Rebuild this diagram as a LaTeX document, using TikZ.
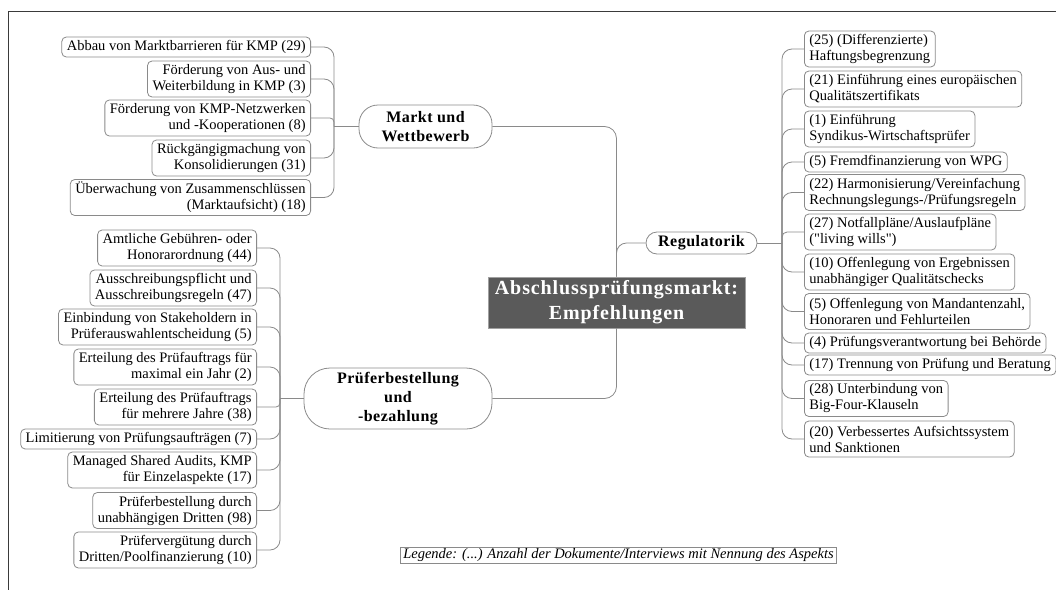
\documentclass[tikz,border=0pt]{standalone}
\usepackage{fontspec}
\setmainfont{Liberation Serif}
\newfontfamily\plainserif{Liberation Serif}
\newfontfamily\headfont[LetterSpace=3]{Liberation Serif}
\newfontfamily\titlefont[LetterSpace=4.5]{Liberation Serif}

\definecolor{boxgray}{HTML}{8A8A8A}
\definecolor{linegray}{HTML}{8A8A8A}
\definecolor{framecol}{HTML}{3A3A3A}
\definecolor{ctrfill}{HTML}{5A5A5A}
\definecolor{ctrline}{HTML}{A0A0A0}

\tikzset{
  leaf/.style={draw=boxgray, line width=0.8pt, rounded corners=4.5pt,
    inner xsep=5pt, inner ysep=0pt, text=black,
    font=\plainserif\fontsize{14.5}{16}\selectfont},
  one/.style={minimum height=20pt},
  two/.style={minimum height=36pt},
  lleaf/.style={leaf, align=right, anchor=east},
  rleaf/.style={leaf, align=left, anchor=west},
  topic/.style={draw=boxgray, line width=0.8pt, inner sep=0pt, align=center,
    text=black, font=\headfont\bfseries\fontsize{16}{19}\selectfont},
  ctrbox/.style={draw=ctrline, line width=0.8pt, fill=ctrfill, text=white,
    inner sep=0pt, align=center, minimum width=257pt, minimum height=51pt,
    font=\titlefont\bfseries\fontsize{20}{25}\selectfont},
  legendbox/.style={draw=boxgray, line width=0.8pt, inner xsep=3pt, inner ysep=0pt,
    minimum height=16pt, font=\plainserif\itshape\fontsize{14.5}{16}\selectfont},
  conn/.style={draw=linegray, line width=0.8pt},
}

\begin{document}
\begin{tikzpicture}[x=1pt, y=-1pt]
\useasboundingbox (0,0) rectangle (1056,589);

% page frame (open to the right and bottom)
\draw[framecol, line width=1pt] (8.5,600) -- (8.5,11.5) -- (1070,11.5);

% central topic
\node[ctrbox] (ctr) at (616.5,302.5) {Abschlussprüfungsmarkt:\\Empfehlungen};

% main branches
\node[topic, rounded corners=19pt, minimum width=133pt, minimum height=43pt]
  (markt) at (425.5,126.5) {Markt und\\Wettbewerb};
\node[topic, rounded corners=11pt, minimum width=111pt, minimum height=22pt]
  (reg) at (701.5,243) {Regulatorik};
\node[topic, rounded corners=26pt, minimum width=188pt, minimum height=61pt]
  (pruef) at (398,398.5) {Prüferbestellung\\und\\-bezahlung};

% Markt und Wettbewerb
\node[lleaf, one] (m1) at (311,47) {Abbau von Marktbarrieren für KMP (29)};
\node[lleaf, two] (m2) at (311,79) {Förderung von Aus- und\\Weiterbildung in KMP (3)};
\node[lleaf, two] (m3) at (311,118) {Förderung von KMP-Netzwerken\\und -Kooperationen (8)};
\node[lleaf, two] (m4) at (311,158) {Rückgängigmachung von\\Konsolidierungen (31)};
\node[lleaf, two] (m5) at (311,197.5) {Überwachung von Zusammenschlüssen\\(Marktaufsicht) (18)};

% Prüferbestellung und -bezahlung
\node[lleaf, two] (p1) at (257,248) {Amtliche Gebühren- oder\\Honorarordnung (44)};
\node[lleaf, two] (p2) at (257,288) {Ausschreibungspflicht und\\Ausschreibungsregeln (47)};
\node[lleaf, two] (p3) at (257,327) {Einbindung von Stakeholdern in\\Prüferauswahlentscheidung (5)};
\node[lleaf, two] (p4) at (257,367) {Erteilung des Prüfauftrags für\\maximal ein Jahr (2)};
\node[lleaf, two] (p5) at (257,407) {Erteilung des Prüfauftrags\\für mehrere Jahre (38)};
\node[lleaf, one] (p6) at (257,439) {Limitierung von Prüfungsaufträgen (7)};
\node[lleaf, two] (p7) at (257,470) {Managed Shared Audits, KMP\\für Einzelaspekte (17)};
\node[lleaf, two] (p8) at (257,510.5) {Prüferbestellung durch\\unabhängigen Dritten (98)};
\node[lleaf, two] (p9) at (257,550) {Prüfervergütung durch\\Dritten/Poolfinanzierung (10)};

% Regulatorik
\node[rleaf, two] (r1) at (804,49) {(25) (Differenzierte)\\Haftungsbegrenzung};
\node[rleaf, two] (r2) at (804,89) {(21) Einführung eines europäischen\\Qualitätszertifikats};
\node[rleaf, two] (r3) at (804,129) {(1) Einführung\\Syndikus-Wirtschaftsprüfer};
\node[rleaf, one] (r4) at (804,162) {(5) Fremdfinanzierung von WPG};
\node[rleaf, two] (r5) at (804,192.5) {(22) Harmonisierung/Vereinfachung\\Rechnungslegungs-/Prüfungsregeln};
\node[rleaf, two] (r6) at (804,232) {(27) Notfallpläne/Auslaufpläne\\("living wills")};
\node[rleaf, two] (r7) at (804,272) {(10) Offenlegung von Ergebnissen\\unabhängiger Qualitätschecks};
\node[rleaf, two] (r8) at (804,311.5) {(5) Offenlegung von Mandantenzahl,\\Honoraren und Fehlurteilen};
\node[rleaf, one] (r9) at (804,343) {(4) Prüfungsverantwortung bei Behörde};
\node[rleaf, one] (r10) at (804,365) {(17) Trennung von Prüfung und Beratung};
\node[rleaf, two] (r11) at (804,398.5) {(28) Unterbindung von\\Big-Four-Klauseln};
\node[rleaf, two] (r12) at (804,439) {(20) Verbessertes Aufsichtssystem\\und Sanktionen};

% legend
\node[legendbox] (leg) at (618.5,555) {Legende: (...) Anzahl der Dokumente/Interviews mit Nennung des Aspekts};

% central connectors
\draw[conn, rounded corners=12pt] (ctr.north) |- (markt.east);
\draw[conn, rounded corners=10pt] (ctr.north) |- (reg.west);
\draw[conn, rounded corners=12pt] (ctr.south) |- (pruef.east);

% Markt und Wettbewerb connectors
\coordinate (jm) at (334,126.5);
\draw[conn] (markt.west) -- (jm);
\draw[conn, rounded corners=10pt] (jm) |- (m1.east);
\draw[conn, rounded corners=10pt] (jm) |- (m2.east);
\draw[conn, rounded corners=4pt] (jm) |- (m3.east);
\draw[conn, rounded corners=10pt] (jm) |- (m4.east);
\draw[conn, rounded corners=10pt] (jm) |- (m5.east);

% Prüferbestellung connectors
\coordinate (jp) at (280,398.5);
\draw[conn] (pruef.west) -- (jp);
\foreach \n/\r in {p1/10, p2/10, p3/10, p4/10, p5/4, p6/10, p7/10, p8/10, p9/10}
  \draw[conn, rounded corners=\r pt] (jp) |- (\n.east);

% Regulatorik connectors
\coordinate (jr) at (782,243);
\draw[conn] (reg.east) -- (jr);
\foreach \n/\r in {r1/10, r2/10, r3/10, r4/10, r5/10, r6/5, r7/10, r8/10, r9/10, r10/10, r11/10, r12/10}
  \draw[conn, rounded corners=\r pt] (jr) |- (\n.west);
\end{tikzpicture}
\end{document}
